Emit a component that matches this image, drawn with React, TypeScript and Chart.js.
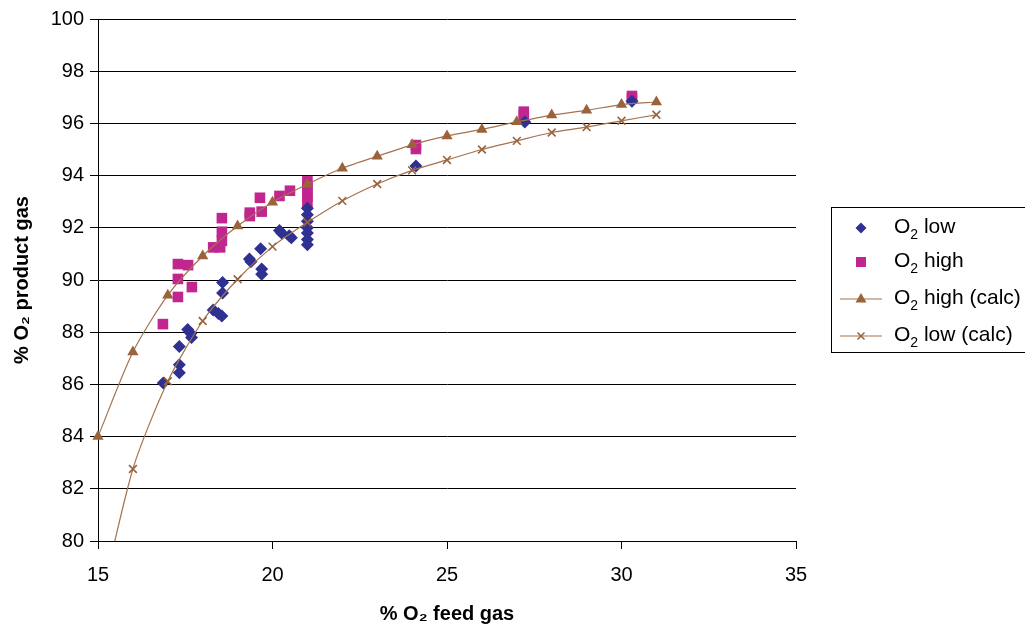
import React, { useEffect, useRef } from "react";
import { Chart, registerables } from "chart.js";

Chart.register(...registerables);

const lowX = [16.87, 17.33, 17.33, 17.33, 17.57, 17.66, 17.68, 18.3, 18.45, 18.55, 18.57, 18.57, 19.34, 19.38, 19.66, 19.69, 19.69, 20.2, 20.26, 20.48, 20.54, 21, 21, 21, 21, 21, 21, 21, 24.11, 27.23, 30.3];
const lowY = [86.05, 87.45, 86.75, 86.45, 88.1, 87.95, 87.8, 88.85, 88.72, 88.62, 89.9, 89.5, 90.8, 90.7, 91.2, 90.42, 90.22, 91.9, 91.8, 91.7, 91.62, 92.75, 92.5, 92.25, 92.0, 91.8, 91.55, 91.35, 94.37, 96.05, 96.85];

const highX = [16.86, 17.29, 17.29, 17.29, 17.58, 17.69, 18.3, 18.5, 18.55, 18.55, 18.55, 19.35, 19.35, 19.69, 19.64, 20.2, 20.5, 21, 21, 21, 21, 21, 24.11, 24.11, 27.2, 27.2, 30.3, 30.3];
const highY = [88.31, 90.04, 90.61, 89.35, 90.57, 89.73, 91.25, 91.25, 91.5, 91.85, 92.37, 92.45, 92.58, 92.62, 93.15, 93.22, 93.42, 93.0, 93.2, 93.4, 93.6, 93.78, 95.02, 95.17, 96.3, 96.45, 96.95, 97.05];

const calcX = [15, 16, 17, 18, 19, 20, 21, 22, 23, 24, 25, 26, 27, 28, 29, 30, 31];
const highCalcY = [84.0, 87.24, 89.42, 90.92, 92.07, 92.98, 93.67, 94.28, 94.74, 95.18, 95.52, 95.77, 96.06, 96.32, 96.5, 96.72, 96.82];
const lowCalcY = [77.2, 82.76, 86.12, 88.43, 90.03, 91.28, 92.21, 93.03, 93.68, 94.2, 94.6, 95.0, 95.33, 95.65, 95.86, 96.1, 96.33];

const xTicks = [15, 20, 25, 30, 35];
const yTicks = [80, 82, 84, 86, 88, 90, 92, 94, 96, 98, 100];

const seriesLabels = ["O₂ low", "O₂ high", "O₂ high (calc)", "O₂ low (calc)"];
const legendTails = [" low", " high", " high (calc)", " low (calc)"];

const BLUE = "#2E3192";
const MAGENTA = "#C0268E";
const BROWN = "#9A6339";
const BROWN_LINE = "#A37350";

const pts = (xs: number[], ys: number[]) => xs.map((x, i) => ({ x, y: ys[i] }));

const legendPlugin = {
  id: "customLegend",
  afterDraw(chart: any) {
    const ctx = chart.ctx;
    const left = 831;
    const top = 207;
    const bottom = 352;
    ctx.save();
    ctx.strokeStyle = "#000";
    ctx.lineWidth = 1;
    ctx.strokeRect(left + 0.5, top + 0.5, 300, bottom - top);
    const rows = [228, 262, 299, 336];
    ctx.textBaseline = "alphabetic";
    rows.forEach((y, i) => {
      const cx = 861;
      if (i === 0) {
        ctx.fillStyle = BLUE;
        ctx.beginPath();
        ctx.moveTo(cx - 5.5, y);
        ctx.lineTo(cx, y - 5.5);
        ctx.lineTo(cx + 5.5, y);
        ctx.lineTo(cx, y + 5.5);
        ctx.closePath();
        ctx.fill();
      } else if (i === 1) {
        ctx.fillStyle = MAGENTA;
        ctx.fillRect(cx - 5, y - 5, 10, 10);
      } else {
        ctx.strokeStyle = BROWN_LINE;
        ctx.lineWidth = 1.2;
        ctx.beginPath();
        ctx.moveTo(840, y);
        ctx.lineTo(882, y);
        ctx.stroke();
        if (i === 2) {
          ctx.fillStyle = BROWN;
          ctx.beginPath();
          ctx.moveTo(cx, y - 6);
          ctx.lineTo(cx + 5.5, y + 3.5);
          ctx.lineTo(cx - 5.5, y + 3.5);
          ctx.closePath();
          ctx.fill();
        } else {
          ctx.strokeStyle = BROWN;
          ctx.lineWidth = 1.5;
          ctx.beginPath();
          ctx.moveTo(cx - 3.5, y - 3.5);
          ctx.lineTo(cx + 3.5, y + 3.5);
          ctx.moveTo(cx + 3.5, y - 3.5);
          ctx.lineTo(cx - 3.5, y + 3.5);
          ctx.stroke();
        }
      }
      ctx.fillStyle = "#000";
      const base = y + 5;
      let x = 894;
      ctx.font = "21px 'Liberation Sans', Arial, sans-serif";
      ctx.fillText("O", x, base);
      x += ctx.measureText("O").width;
      ctx.font = "14px 'Liberation Sans', Arial, sans-serif";
      ctx.fillText("2", x, base + 6);
      x += ctx.measureText("2").width;
      ctx.font = "21px 'Liberation Sans', Arial, sans-serif";
      ctx.fillText(legendTails[i], x, base);
    });
    ctx.restore();
  },
};

export default function App() {
  const ref = useRef<HTMLCanvasElement | null>(null);

  useEffect(() => {
    if (!ref.current) return;
    const chart = new Chart(ref.current, {
      type: "scatter",
      data: {
        datasets: [
          {
            label: seriesLabels[0],
            data: pts(lowX, lowY),
            pointStyle: "rectRot",
            pointRadius: 6.5,
            pointBackgroundColor: BLUE,
            pointBorderColor: BLUE,
            borderWidth: 0,
            showLine: false,
            order: 2,
          },
          {
            label: seriesLabels[1],
            data: pts(highX, highY),
            pointStyle: "rect",
            pointRadius: 7.5,
            pointBackgroundColor: MAGENTA,
            pointBorderColor: MAGENTA,
            borderWidth: 0,
            showLine: false,
            order: 3,
          },
          {
            label: seriesLabels[2],
            data: pts(calcX, highCalcY),
            showLine: true,
            borderColor: BROWN_LINE,
            borderWidth: 1.2,
            tension: 0.25,
            pointStyle: "triangle",
            pointRadius: 6.5,
            pointBackgroundColor: BROWN,
            pointBorderColor: BROWN,
            pointBorderWidth: 0,
            clip: false,
            order: 0,
          },
          {
            label: seriesLabels[3],
            data: pts(calcX, lowCalcY),
            showLine: true,
            borderColor: BROWN_LINE,
            borderWidth: 1.2,
            tension: 0.25,
            pointStyle: "crossRot",
            pointRadius: 5.5,
            pointBorderColor: BROWN,
            pointBorderWidth: 1.6,
            order: 1,
          },
        ],
      },
      options: {
        animation: false,
        responsive: true,
        maintainAspectRatio: false,
        layout: { padding: { left: 0, top: 19, right: 229, bottom: 0 } },
        plugins: {
          legend: { display: false },
          tooltip: { enabled: false },
        },
        scales: {
          x: {
            type: "linear",
            min: 15,
            max: 35,
            afterBuildTicks: (s: any) => {
              s.ticks = xTicks.map((v) => ({ value: v }));
            },
            afterFit: (s: any) => {
              s.height = 85;
            },
            grid: {
              drawOnChartArea: false,
              drawTicks: true,
              tickLength: 8,
              color: "#000",
            },
            border: { display: true, color: "#000", width: 1 },
            ticks: {
              color: "#000",
              padding: 14,
              maxRotation: 0,
              font: { family: "'Liberation Sans', Arial", size: 20 },
            },
            title: {
              display: true,
              text: "% O₂ feed gas",
              color: "#000",
              padding: { top: 10, bottom: 0 },
              font: { family: "'Liberation Sans', Arial", size: 20, weight: "bold" },
            },
          },
          y: {
            type: "linear",
            min: 80,
            max: 100,
            afterBuildTicks: (s: any) => {
              s.ticks = yTicks.map((v) => ({ value: v }));
            },
            afterFit: (s: any) => {
              s.width = 98;
            },
            grid: {
              drawOnChartArea: true,
              drawTicks: true,
              tickLength: 8,
              color: "#000",
              lineWidth: 1,
            },
            border: { display: true, color: "#000", width: 1 },
            ticks: {
              color: "#000",
              padding: 6,
              font: { family: "'Liberation Sans', Arial", size: 20 },
            },
            title: {
              display: true,
              text: "% O₂ product gas",
              color: "#000",
              padding: { top: 10, bottom: 4 },
              font: { family: "'Liberation Sans', Arial", size: 20, weight: "bold" },
            },
          },
        },
      },
      plugins: [legendPlugin],
    });
    return () => chart.destroy();
  }, []);

  return (
    <div style={{ position: "absolute", left: 0, top: 0, width: 1025, height: 626, background: "#fff" }}>
      <canvas ref={ref} />
    </div>
  );
}
